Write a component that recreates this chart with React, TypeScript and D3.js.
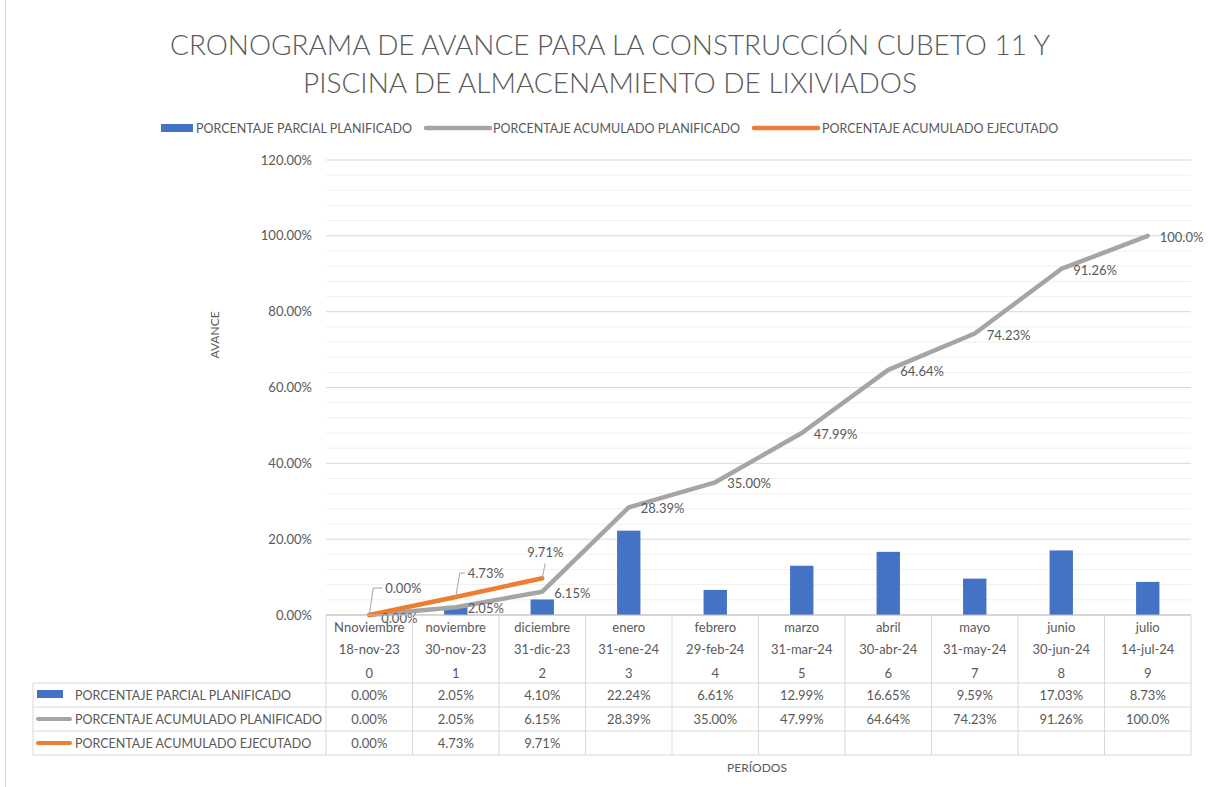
import React from "react";
import * as d3 from "d3";

const months = ["Nnoviembre", "noviembre", "diciembre", "enero", "febrero", "marzo", "abril", "mayo", "junio", "julio"];
const dates = ["18-nov-23", "30-nov-23", "31-dic-23", "31-ene-24", "29-feb-24", "31-mar-24", "30-abr-24", "31-may-24", "30-jun-24", "14-jul-24"];
const periods = ["0", "1", "2", "3", "4", "5", "6", "7", "8", "9"];
const parcialPlan = [0.0, 2.05, 4.1, 22.24, 6.61, 12.99, 16.65, 9.59, 17.03, 8.73];
const acumPlan = [0.0, 2.05, 6.15, 28.39, 35.0, 47.99, 64.64, 74.23, 91.26, 100.0];
const acumEjec = [0.0, 4.73, 9.71];
const yTicks = [0, 20, 40, 60, 80, 100, 120];
const seriesNames = ["PORCENTAJE PARCIAL PLANIFICADO", "PORCENTAJE ACUMULADO PLANIFICADO", "PORCENTAJE ACUMULADO EJECUTADO"];
const titleLines = ["CRONOGRAMA DE AVANCE PARA LA CONSTRUCCIÓN CUBETO 11 Y", "PISCINA DE ALMACENAMIENTO DE LIXIVIADOS"];

const BLUE = "#4472C4";
const GREY = "#A5A5A5";
const ORANGE = "#ED7D31";
const TXT = "#595959";
const FONT = "Lato, 'Open Sans', sans-serif";

const fmt = (v: number) => (v === 100 ? "100.0%" : v.toFixed(2) + "%");

export default function App() {
  const W = 1208, H = 787;
  const left = 326, right = 1191, top = 160, bottom = 615;
  const x = d3.scaleBand<number>().domain(d3.range(10)).range([left, right]).padding(0);
  const bw = x.bandwidth();
  const cx = (i: number) => (x(i) as number) + bw / 2;
  const y = d3.scaleLinear().domain([0, 120]).range([bottom, top]);
  const minor = d3.range(0, 120.001, 4);
  const line = d3.line<number>().x((_, i) => cx(i)).y((d) => y(d));
  const barW = bw * 0.27;

  const tableLeft = 33;
  const headerBottom = 683;
  const rowH = 24;
  const rowYs = [headerBottom, headerBottom + rowH, headerBottom + 2 * rowH, headerBottom + 3 * rowH];
  const rowsData: (number | undefined)[][] = [parcialPlan, acumPlan, acumEjec];

  const orangeLabelOff = [
    { dx: 16, dy: -27 },
    { dx: 12, dy: -24 },
    { dx: -15, dy: -26 },
  ];

  return (
    <svg width={W} height={H} style={{ display: "block", position: "absolute", left: 0, top: 0 }} fontFamily={FONT}>
      <rect x={0} y={0} width={W} height={H} fill="#fff" />
      <line x1={5.5} y1={0} x2={5.5} y2={H} stroke="#D9D9D9" />
      {/* title */}
      {titleLines.map((t, i) => (
        <text key={i} x={610} y={55 + i * 38} textAnchor="middle" fontSize={28} fill={TXT} fontWeight={300}
          textLength={i === 0 ? 880 : 614} lengthAdjust="spacingAndGlyphs">{t}</text>
      ))}
      {/* legend */}
      <g fontSize={12.5} fill={TXT}>
        <rect x={161} y={124} width={32} height={8} fill={BLUE} />
        <text x={196} y={132.5}>{seriesNames[0]}</text>
        <line x1={426} y1={128} x2={490} y2={128} stroke={GREY} strokeWidth={4.5} strokeLinecap="round" />
        <text x={493} y={132.5}>{seriesNames[1]}</text>
        <line x1={754} y1={128} x2={818} y2={128} stroke={ORANGE} strokeWidth={4.5} strokeLinecap="round" />
        <text x={822} y={132.5}>{seriesNames[2]}</text>
      </g>
      {/* gridlines */}
      {minor.map((v) => (
        <line key={"m" + v} x1={left} x2={right} y1={y(v)} y2={y(v)} stroke={v % 20 === 0 ? "#D9D9D9" : "#F0F0F0"} strokeWidth={1} />
      ))}
      {/* y ticks */}
      {yTicks.map((v) => (
        <text key={"t" + v} x={312} y={y(v) + 4.5} textAnchor="end" fontSize={13} fill={TXT}>{v.toFixed(2) + "%"}</text>
      ))}
      <text transform={`translate(${219},${335}) rotate(-90)`} textAnchor="middle" fontSize={12} fill={TXT}>AVANCE</text>
      {/* bars */}
      {parcialPlan.map((v, i) => (
        <rect key={"b" + i} x={cx(i) - barW / 2} y={y(v)} width={barW} height={bottom - y(v)} fill={BLUE} />
      ))}
      {/* lines */}
      <path d={line(acumPlan) as string} fill="none" stroke={GREY} strokeWidth={4.5} strokeLinejoin="round" strokeLinecap="round" />
      <path d={line(acumEjec) as string} fill="none" stroke={ORANGE} strokeWidth={4.5} strokeLinejoin="round" strokeLinecap="round" />
      {/* grey labels */}
      {acumPlan.map((v, i) => (
        <text key={"gl" + i} x={cx(i) + 12} y={y(v) + 6 + (i === 0 ? 2 : 0)} fontSize={13} fill={TXT}>{fmt(v)}</text>
      ))}
      {/* orange labels with leader lines */}
      {acumEjec.map((v, i) => {
        const px = cx(i), py = y(v);
        const o = orangeLabelOff[i];
        const lx = px + o.dx, ly = py + o.dy;
        const pts = i < 2
          ? `${px},${py} ${px + 4},${ly} ${lx - 3},${ly}`
          : `${px},${py} ${px + 3},${py - 15}`;
        return (
          <g key={"ol" + i}>
            <polyline points={pts} fill="none" stroke={GREY} strokeWidth={1} />
            <text x={lx} y={ly + 5} fontSize={13} fill={TXT}>{fmt(v)}</text>
          </g>
        );
      })}
      {/* data table */}
      <g stroke="#D9D9D9" strokeWidth={1}>
        <line x1={left} x2={right} y1={bottom} y2={bottom} stroke="#BFBFBF" />
        {d3.range(11).map((i) => {
          const xx = i < 10 ? (x(i) as number) : right;
          return <line key={"v" + i} x1={xx} x2={xx} y1={bottom} y2={rowYs[3]} />;
        })}
        <line x1={tableLeft} x2={tableLeft} y1={headerBottom} y2={rowYs[3]} />
        {rowYs.map((yy, i) => (
          <line key={"h" + i} x1={tableLeft} x2={right} y1={yy} y2={yy} />
        ))}
      </g>
      <g fontSize={13} fill={TXT} textAnchor="middle">
        {d3.range(10).map((i) => (
          <g key={"hd" + i}>
            <text x={cx(i)} y={632}>{months[i]}</text>
            <text x={cx(i)} y={654}>{dates[i]}</text>
            <text x={cx(i)} y={678}>{periods[i]}</text>
          </g>
        ))}
        {rowsData.map((arr, r) => arr.map((v, i) => (
          <text key={"c" + r + "-" + i} x={cx(i)} y={rowYs[r] + 16.5}>{fmt(v as number)}</text>
        )))}
      </g>
      <g fontSize={12.5} fill={TXT}>
        <rect x={37} y={690} width={26} height={8} fill={BLUE} />
        <text x={75} y={699.5}>{seriesNames[0]}</text>
        <line x1={38} y1={719} x2={70} y2={719} stroke={GREY} strokeWidth={4} strokeLinecap="round" />
        <text x={75} y={723.5}>{seriesNames[1]}</text>
        <line x1={38} y1={743} x2={70} y2={743} stroke={ORANGE} strokeWidth={4} strokeLinecap="round" />
        <text x={75} y={747.5}>{seriesNames[2]}</text>
      </g>
      <text x={757} y={772} textAnchor="middle" fontSize={12} fill={TXT}>PERÍODOS</text>
    </svg>
  );
}
